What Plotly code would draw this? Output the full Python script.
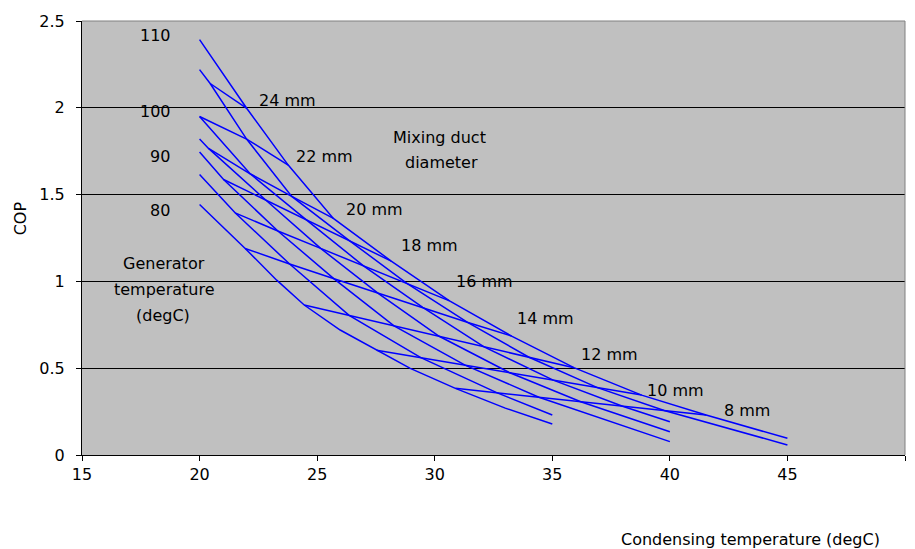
import plotly.graph_objects as go

# ---------------- data ----------------
# Generator-temperature curves: condensing temperature (degC) vs COP
tc_tg110 = [20, 22.01, 23.77, 25.69, 28.15, 30.63, 33.27, 35.92, 38.8, 41.54, 45]
cop_tg110 = [2.393, 1.996, 1.67, 1.363, 1.117, 0.888, 0.685, 0.503, 0.345, 0.23, 0.096]
tc_tg105 = [20, 20.45, 22.0, 23.92, 26.37, 28.8, 31.38, 34.01, 36.92, 39.76, 45]
cop_tg105 = [2.22, 2.14, 1.82, 1.49, 1.235, 0.99, 0.765, 0.563, 0.388, 0.256, 0.058]
tc_tg100 = [20, 22.15, 24.58, 26.97, 29.49, 32.1, 35.04, 37.99, 40]
cop_tg100 = [1.95, 1.62, 1.35, 1.09, 0.85, 0.623, 0.431, 0.281, 0.192]
tc_tg95 = [20, 20.38, 22.8, 25.15, 27.61, 30.19, 33.17, 36.21, 40]
cop_tg95 = [1.82, 1.766, 1.47, 1.19, 0.93, 0.684, 0.475, 0.307, 0.134]
tc_tg90 = [20, 21.02, 23.33, 25.72, 28.27, 31.29, 34.43, 40]
cop_tg90 = [1.746, 1.587, 1.29, 1.015, 0.744, 0.518, 0.333, 0.077]
tc_tg85 = [20, 21.51, 23.83, 26.36, 29.41, 32.66, 35]
cop_tg85 = [1.616, 1.395, 1.10, 0.804, 0.561, 0.358, 0.23]
tc_tg80 = [20, 21.94, 23.28, 24.45, 25.98, 27.53, 28.96, 30.88, 33, 35]
cop_tg80 = [1.443, 1.19, 1.007, 0.864, 0.72, 0.604, 0.499, 0.384, 0.27, 0.179]

# Mixing-duct-diameter lines
tc_d24 = [20.45, 22.01]
cop_d24 = [2.14, 1.996]
tc_d22 = [20.0, 22.0, 23.77]
cop_d22 = [1.95, 1.82, 1.67]
tc_d20 = [20.38, 22.15, 23.92, 25.69]
cop_d20 = [1.766, 1.62, 1.49, 1.363]
tc_d18 = [21.02, 22.8, 24.58, 26.37, 28.15]
cop_d18 = [1.587, 1.47, 1.35, 1.235, 1.117]
tc_d16 = [21.51, 23.33, 25.15, 26.97, 28.8, 30.63]
cop_d16 = [1.395, 1.29, 1.19, 1.09, 0.99, 0.888]
tc_d14 = [21.94, 23.83, 25.72, 27.61, 29.49, 31.38, 33.27]
cop_d14 = [1.19, 1.10, 1.015, 0.93, 0.85, 0.765, 0.685]
tc_d12 = [24.45, 26.36, 28.27, 30.19, 32.1, 34.01, 35.92]
cop_d12 = [0.864, 0.804, 0.744, 0.684, 0.623, 0.563, 0.503]
tc_d10 = [27.53, 29.41, 31.29, 33.17, 35.04, 36.92, 38.8]
cop_d10 = [0.604, 0.561, 0.518, 0.475, 0.431, 0.388, 0.345]
tc_d8 = [30.88, 32.66, 34.43, 36.21, 37.99, 39.76, 41.54]
cop_d8 = [0.384, 0.358, 0.333, 0.307, 0.281, 0.256, 0.23]

tg_label_text = ["110", "100", "90", "80"]
d_label_text = ["24 mm", "22 mm", "20 mm", "18 mm", "16 mm", "14 mm", "12 mm", "10 mm", "8 mm"]
x_ticks = [15, 20, 25, 30, 35, 40, 45, 50]
y_ticks = [0, 0.5, 1, 1.5, 2, 2.5]

# ---------------- figure ----------------
BLUE = "#0000FF"
FONT = "DejaVu Sans"

tg_series = [(tc_tg110, cop_tg110), (tc_tg105, cop_tg105), (tc_tg100, cop_tg100),
             (tc_tg95, cop_tg95), (tc_tg90, cop_tg90), (tc_tg85, cop_tg85),
             (tc_tg80, cop_tg80)]
d_series = [(tc_d24, cop_d24), (tc_d22, cop_d22), (tc_d20, cop_d20), (tc_d18, cop_d18),
            (tc_d16, cop_d16), (tc_d14, cop_d14), (tc_d12, cop_d12), (tc_d10, cop_d10),
            (tc_d8, cop_d8)]

fig = go.Figure()
for xs, ys in tg_series + d_series:
    fig.add_trace(go.Scatter(x=xs, y=ys, mode="lines",
                             line=dict(color=BLUE, width=1.5),
                             hoverinfo="skip", showlegend=False))

annotations = []
# generator temperature labels (x, y in data coords)
tg_label_pos = [(18.11, 2.418), (18.11, 1.976), (18.33, 1.717), (18.33, 1.41)]
for t, (x, y) in zip(tg_label_text, tg_label_pos):
    annotations.append(dict(x=x, y=y, xref="x", yref="y", text=t, showarrow=False,
                            xanchor="center", yanchor="middle"))
# diameter labels (left aligned)
d_label_pos = [(22.54, 2.044), (24.10, 1.717), (26.22, 1.415), (28.56, 1.209),
               (30.91, 0.998), (33.52, 0.787), (36.22, 0.581), (39.02, 0.370),
               (42.31, 0.255)]
for t, (x, y) in zip(d_label_text, d_label_pos):
    annotations.append(dict(x=x, y=y, xref="x", yref="y", text=t, showarrow=False,
                            xanchor="left", yanchor="middle", xshift=-2))
# explanatory texts
for t, x, y in [("Generator", 18.5, 1.105), ("temperature", 18.5, 0.956),
                ("(degC)", 18.43, 0.806), ("Mixing duct", 30.2, 1.831),
                ("diameter", 30.3, 1.687)]:
    annotations.append(dict(x=x, y=y, xref="x", yref="y", text=t, showarrow=False,
                            xanchor="center", yanchor="middle"))
# axis titles
annotations.append(dict(x=-0.075, y=0.546, xref="paper", yref="paper", text="COP",
                        textangle=-90, showarrow=False, xanchor="center", yanchor="middle"))
annotations.append(dict(x=0.812, y=-0.194, xref="paper", yref="paper",
                        text="Condensing temperature (degC)", showarrow=False,
                        xanchor="center", yanchor="middle"))

fig.update_layout(
    width=915, height=549,
    margin=dict(l=82, r=10, t=21, b=94),
    paper_bgcolor="white", plot_bgcolor="#C0C0C0",
    font=dict(family=FONT, size=16, color="black"),
    showlegend=False,
    annotations=annotations,
    shapes=[
        dict(type="line", xref="paper", yref="paper", x0=0, x1=1, y0=1, y1=1,
             line=dict(color="#808080", width=1), layer="above"),
        dict(type="line", xref="paper", yref="paper", x0=1, x1=1, y0=0, y1=1,
             line=dict(color="#808080", width=1), layer="above"),
    ],
)
fig.update_xaxes(range=[15, 50], tickvals=x_ticks, showgrid=False, zeroline=False,
                 showline=True, linecolor="black", linewidth=1,
                 ticks="outside", ticklen=5, tickcolor="black", ticklabelstandoff=0)
fig.update_yaxes(range=[0, 2.5], tickvals=y_ticks, showgrid=True, gridcolor="black",
                 gridwidth=1, zeroline=False, showline=True, linecolor="black",
                 linewidth=1, ticks="outside", ticklen=5, tickcolor="black",
                 ticklabelstandoff=8)

fig.write_html("out.html")
